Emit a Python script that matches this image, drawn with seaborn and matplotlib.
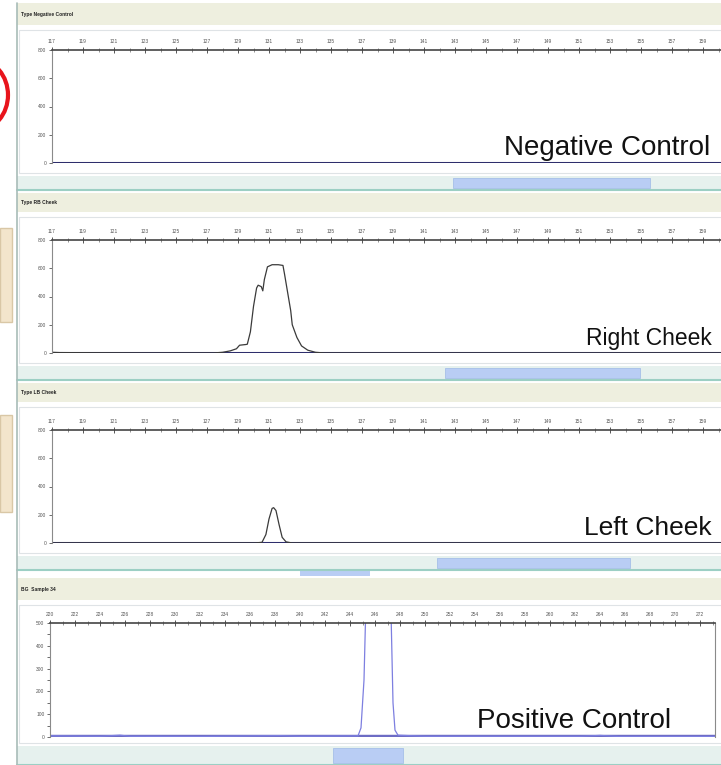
import matplotlib
matplotlib.use("Agg")
import matplotlib.pyplot as plt
import matplotlib.patches as mpatches
from matplotlib.ticker import MultipleLocator
import numpy as np
import pandas as pd
import seaborn as sns

# ---- data ----
panel_titles = ["Type Negative Control", "Type RB Cheek", "Type LB Cheek", "BG  Sample 34"]
panel_labels = ["Negative Control", "Right Cheek", "Left Cheek", "Positive Control"]
label_sizes = [20, 16.5, 19, 20]

# fragment size (bp) / signal (rfu)
neg_bp = [117.0, 160.2]
neg_rfu = [0, 0]

right_bp = [117.0, 117.5, 123.3, 127.4, 128.0, 128.5, 128.9, 129.1, 129.5, 129.6, 129.8, 130.0,
            130.2, 130.3, 130.5, 130.6, 130.7, 130.9, 131.2, 131.6, 131.9, 132.0, 132.2, 132.4,
            132.5, 132.8, 133.1, 133.5, 134.0, 134.6, 160.2]
right_rfu = [5, 3, 0, 0, 5, 15, 30, 55, 60, 62, 150, 330, 460, 480, 470, 440, 520, 610, 625,
             625, 620, 560, 430, 300, 200, 110, 50, 20, 5, 0, 0]

left_bp = [117.0, 130.1, 130.55, 130.8, 131.0, 131.2, 131.3, 131.45, 131.65, 131.85, 132.1,
           132.5, 160.2]
left_rfu = [0, 0, 5, 60, 170, 245, 250, 230, 130, 40, 8, 0, 0]

pos_bp = [220.0, 224.0, 225.6, 226.4, 232.0, 238.4, 240.0, 244.64, 244.88, 245.12, 245.28,
          245.44, 247.04, 247.3, 247.44, 247.6, 247.84, 250.0, 262.5, 264.0, 265.5, 273.2]
pos_rfu = [5, 3, 8, 3, 2, 6, 3, 5, 40, 250, 600, 1500, 1500, 500, 150, 30, 8, 3, 3, 7, 2, 2]

x_main = np.arange(117, 161, 2)
x_pos = np.arange(220, 274, 2)

W, H = 721, 765
sns.set_style("white")
plt.rcParams["font.family"] = ["Liberation Sans", "DejaVu Sans"]

fig = plt.figure(figsize=(W / 100, H / 100), dpi=100)
bg = fig.add_axes([0, 0, 1, 1])
bg.set_xlim(0, W)
bg.set_ylim(H, 0)
bg.axis("off")


def rect(x0, y0, x1, y1, **kw):
    bg.add_patch(mpatches.Rectangle((x0, y0), x1 - x0, y1 - y0, **kw))


def px_axes(x0, y0, x1, y1):
    return fig.add_axes([x0 / W, 1 - y1 / H, (x1 - x0) / W, (y1 - y0) / H])


# slide remnants on the left
bg.add_patch(mpatches.Ellipse((-22, 95), 60, 70, fill=False, ec="#e8141c", lw=3))
rect(0, 228, 12, 322, fc="#f3e5cc", ec="#d9c7a6", lw=1)
rect(0, 415, 12, 512, fc="#f3e5cc", ec="#d9c7a6", lw=1)

# window chrome: (title top, title bottom, axes top, axes bottom, scroll top, scroll bottom, thumb)
chrome = [
    (3, 25, 50, 163, 176, 190, (453, 650)),
    (193, 212, 240, 353, 366, 380, (445, 640)),
    (383, 402, 430, 543, 556, 570, (437, 630)),
    (578, 600, 623, 737, 746, 765, (333, 403)),
]
for i, (t0, t1, a0, a1, s0, s1, th) in enumerate(chrome):
    rect(17, t0, W, t1, fc="#eeefdf", ec="none")
    bg.text(21, (t0 + t1) / 2, panel_titles[i], fontsize=3.5, fontweight="bold",
            va="center", ha="left", color="#222222")
    rect(19, t1 + 5, W + 5, s0 - 3, fc="none", ec="#dfe3e6", lw=0.8)
    rect(17, s0, W, s1, fc="#e6f1ee", ec="none")
    rect(th[0], s0 + 2, th[1], s1 - 2, fc="#b9cdf4", ec="#a6bfe8", lw=0.6)
    bg.plot([17, W], [s1, s1], color="#9ccfc4", lw=1.5)
rect(300, 571, 370, 576, fc="#b9cdf4", ec="none")
bg.plot([17, 17], [3, H], color="#a8bcb8", lw=1.2)

# ---- traces ----
panels = [
    (neg_bp, neg_rfu, (52, 721), x_main, 800, 200, "#3a3a3a", "#2e2e6c"),
    (right_bp, right_rfu, (52, 721), x_main, 800, 200, "#3a3a3a", "#2e2e6c"),
    (left_bp, left_rfu, (52, 721), x_main, 800, 200, "#3a3a3a", "#2e2e6c"),
    (pos_bp, pos_rfu, (50, 715), x_pos, 500, 100, "#7d7fe0", "#6d6cc4"),
]
for i, (bp, rfu, (x0, x1), xt, ymax, ystep, col, basecol) in enumerate(panels):
    a0, a1 = chrome[i][2], chrome[i][3]
    ax = px_axes(x0, a0, x1, a1)
    ax.patch.set_alpha(0)
    df = pd.DataFrame({"bp": bp, "rfu": rfu})
    ax.axhline(0, color=basecol, lw=2.2 if i < 3 else 3.2, zorder=1)
    if i > 0:
        sns.lineplot(data=df, x="bp", y="rfu", ax=ax, color=col, lw=0.9,
                     sort=False, estimator=None, zorder=2)
    ax.set_xlim(xt[0], xt[0] + (x1 - x0) / (31 if i < 3 else 25) * 2)
    ax.set_ylim(0, ymax)
    ax.set_xlabel("")
    ax.set_ylabel("")
    ax.xaxis.tick_top()
    ax.set_xticks(xt)
    ax.set_xticklabels([str(v) for v in xt])
    ax.xaxis.set_minor_locator(MultipleLocator(1))
    ax.set_yticks(np.arange(0, ymax + 1, ystep))
    if i == 3:
        ax.yaxis.set_minor_locator(MultipleLocator(50))
    ax.tick_params(axis="x", which="major", direction="inout", length=5, width=0.7,
                   labelsize=3.5, colors="#555555", pad=2)
    ax.tick_params(axis="x", which="minor", direction="inout", length=3, width=0.5,
                   colors="#666666", top=True, bottom=False)
    ax.tick_params(axis="y", which="both", direction="out", length=2.5, width=0.6,
                   labelsize=3.5, colors="#555555", pad=1.5, left=True)
    ax.spines["bottom"].set_visible(False)
    ax.spines["top"].set_color("#444444")
    ax.spines["top"].set_linewidth(1.2)
    ax.spines["left"].set_color("#8a8a8a")
    ax.spines["left"].set_linewidth(0.8)
    ax.spines["right"].set_visible(i == 3)
    ax.spines["right"].set_color("#8a8a8a")

# ---- sample labels ----
lab_pos = [(710, 155, "right"), (712, 345, "right"), (712, 535, "right"), (477, 728, "left")]
for (lx, ly, ha), txt, fs in zip(lab_pos, panel_labels, label_sizes):
    bg.text(lx, ly, txt, fontsize=fs, ha=ha, va="baseline", color="#111111", zorder=10)

fig.savefig("out.png", dpi=100)
